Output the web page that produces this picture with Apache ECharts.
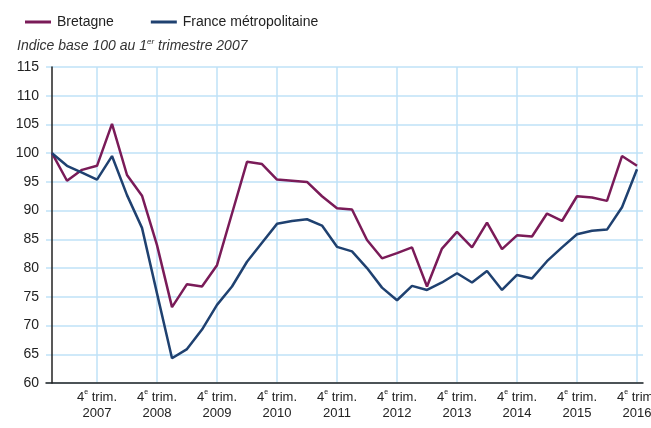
<!DOCTYPE html>
<html>
<head>
<meta charset="utf-8">
<script src="https://cdn.jsdelivr.net/npm/echarts@6/dist/echarts.min.js"></script>
<style>
  html, body { margin: 0; padding: 0; background: #fff; }
  #container { width: 651px; height: 428px; }
</style>
</head>
<body>
<div id="container"></div>
<script>
// quarters from Q1 2007 to Q4 2016 (index 0..39)
let years = ['2007', '2008', '2009', '2010', '2011', '2012', '2013', '2014', '2015', '2016'];
let bretagne = [100, 95.2, 97.1, 97.8, 105.1, 96.2, 92.6, 84.0,
  73.2, 77.2, 76.8, 80.5, 89.5, 98.5, 98.1, 95.4,
  95.2, 95.0, 92.5, 90.4, 90.2, 84.9, 81.7, 82.6,
  83.6, 76.8, 83.4, 86.3, 83.6, 87.9, 83.3, 85.7,
  85.5, 89.5, 88.2, 92.5, 92.3, 91.7, 99.5, 97.8];
let france = [100, 97.8, 96.6, 95.4, 99.5, 92.7, 87.0, 75.6,
  64.3, 65.9, 69.3, 73.6, 76.8, 81.1, 84.4, 87.7,
  88.2, 88.5, 87.4, 83.7, 82.9, 80.0, 76.6, 74.4,
  76.9, 76.2, 77.5, 79.1, 77.5, 79.5, 76.2, 78.8,
  78.2, 81.2, 83.6, 85.9, 86.5, 86.7, 90.6, 97.2];
// 4th quarters get a label and a grid line
let q4Ticks = years.map((y, i) => i * 4 + 3);

let toPairs = arr => arr.map((v, i) => [i, v]);

let option = {
  animation: false,
  textStyle: { fontFamily: 'Liberation Sans, Arial, sans-serif' },
  title: {
    text: 'Indice base 100 au 1{sup|er} trimestre 2007',
    left: 12,
    top: 33,
    textStyle: {
      fontSize: 14,
      fontWeight: 'normal',
      fontStyle: 'italic',
      color: '#333',
      fontFamily: 'Liberation Sans, Arial, sans-serif',
      rich: {
        sup: { fontSize: 8, fontStyle: 'italic', verticalAlign: 'top', padding: [0, 0, 8, 0], color: '#333' }
      }
    }
  },
  legend: {
    left: 20,
    top: 10,
    icon: 'rect',
    itemWidth: 26,
    itemHeight: 3,
    itemGap: 37,
    textStyle: { fontSize: 14, color: '#222', padding: [0, 0, 0, 1] },
    data: ['Bretagne', 'France métropolitaine']
  },
  grid: { left: 46, right: 8, top: 67, bottom: 45, outerBoundsMode: 'none' },
  xAxis: {
    type: 'value',
    min: -0.4,
    max: 39.4,
    axisLine: { show: true, onZero: false, lineStyle: { color: '#222', width: 1.5 } },
    axisTick: { show: false, customValues: q4Ticks },
    axisLabel: {
      customValues: q4Ticks,
      color: '#222',
      fontSize: 13,
      lineHeight: 16,
      margin: 6,
      formatter: v => '4{sup|e} trim.\n' + years[(v - 3) / 4],
      rich: { sup: { fontSize: 7, verticalAlign: 'top', padding: [0, 0, 6, 0], color: '#222' } }
    },
    splitLine: { show: true, lineStyle: { color: '#bfe2f7', width: 1.5 } }
  },
  yAxis: {
    type: 'value',
    min: 60,
    max: 115,
    interval: 5,
    axisLine: { show: true, lineStyle: { color: '#222', width: 1.5 } },
    axisTick: { show: false },
    axisLabel: { color: '#222', fontSize: 14, margin: 7 },
    splitLine: { show: true, lineStyle: { color: '#bfe2f7', width: 1.5 } }
  },
  series: [
    {
      name: 'Bretagne',
      type: 'line',
      symbol: 'none',
      color: '#7a1b58',
      lineStyle: { width: 2.5, color: '#7a1b58' },
      data: toPairs(bretagne)
    },
    {
      name: 'France métropolitaine',
      type: 'line',
      symbol: 'none',
      color: '#1f4170',
      lineStyle: { width: 2.5, color: '#1f4170' },
      data: toPairs(france)
    }
  ]
};

let myChart = echarts.init(document.getElementById('container'));
myChart.setOption(option);
</script>
</body>
</html>
